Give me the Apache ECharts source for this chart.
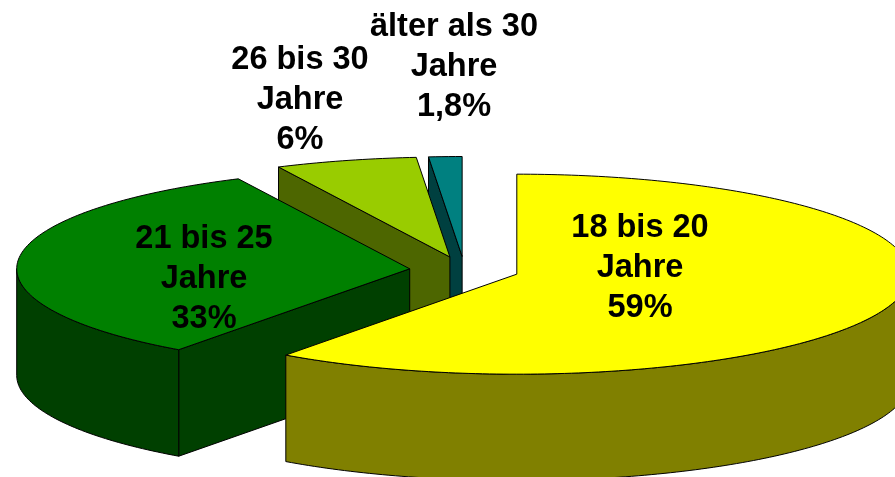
<!DOCTYPE html>
<html>
<head>
<meta charset="utf-8">
<style>html,body{margin:0;padding:0;background:#fff}#c{width:895px;height:477px}</style>
<script src="https://cdn.jsdelivr.net/npm/echarts@6/dist/echarts.min.js"></script>
</head>
<body>
<div id="c"></div>
<script>
// Data
const categories = ['18 bis 20\nJahre', '21 bis 25\nJahre', '26 bis 30\nJahre', 'älter als 30\nJahre'];
const shares = [59, 33, 6.3, 1.8];
const shareLabels = ['59%', '33%', '6%', '1,8%'];
const topColors = ['#FFFF00', '#008000', '#99CC00', '#008080'];
const wallColors = ['#808000', '#004000', '#4D6600', '#004040'];

// Pie projection
const cx = 464.5, cy = 270, rx = 393, ry = 100, depth = 106.5;
const explodeX = 55, explodeY = 13.5;
const perspective = 0.888; // foreshortening of the angle around the pie, back edge fixed
const backSqueeze = 0.38, backSqueezeRange = 6; // extra compression right at the back edge
const labelAnchors = [[640, 268.5], [204, 279], [300, 100], [454, 67]];

const total = shares.reduce((a, b) => a + b, 0);
const rad = d => d * Math.PI / 180;
function project(a) { // true angle -> drawn angle on the ellipse
  if (a <= 0 || a >= 360) return a;
  let h = Math.atan(perspective * Math.tan(rad(a / 2))) * 180 / Math.PI;
  if (h < 0) h += 180;
  const u = 360 - h * 2;
  return 360 - u * (1 - backSqueeze * Math.exp(-u / backSqueezeRange));
}
const bounds = [0];
shares.forEach(v => bounds.push(bounds[bounds.length - 1] + v / total * 360));
const drawn = bounds.map(project);

function sliceShapes(i) {
  const s = drawn[i], e = drawn[i + 1], mid = rad((s + e) / 2);
  const ax = cx + explodeX * Math.sin(mid), ay = cy - explodeY * Math.cos(mid);
  const rim = t => [ax + rx * Math.sin(rad(t)), ay - ry * Math.cos(rad(t))];
  const down = p => [p[0], p[1] + depth];
  const arc = (a, b) => { const o = []; const n = Math.max(2, Math.ceil(Math.abs(b - a))); for (let k = 0; k <= n; k++) o.push(rim(a + (b - a) * k / n)); return o; };
  const shapes = [];
  const st = { stroke: '#000', lineWidth: 1, lineJoin: 'round' };
  const rank = shares.length - 1 - i;
  const poly = (pts, fill, z2) => shapes.push({ type: 'polygon', z2: rank * 10 + z2, silent: true, shape: { points: pts }, style: Object.assign({ fill }, st) });
  // start cut face
  if (s > 0) poly([[ax, ay], rim(s), down(rim(s)), [ax, ay + depth]], wallColors[i], 1);
  // visible outer wall (front half of the ellipse)
  const a0 = Math.max(s, 90), a1 = Math.min(e, 270);
  if (a1 > a0) {
    const top = arc(a0, a1);
    poly(top.concat(top.slice().reverse().map(down)), wallColors[i], 2);
  }
  // top face
  poly([[ax, ay]].concat(arc(s, e)), topColors[i], 3);
  return shapes;
}

const chart = echarts.init(document.getElementById('c'), null, { renderer: 'canvas' });
chart.setOption({
  animation: false,
  backgroundColor: '#ffffff',
  series: [{
    type: 'custom',
    coordinateSystem: 'none',
    clip: false,
    silent: true,
    data: shares.map((v, i) => ({ value: [v, i], name: categories[i] })),
    renderItem(params, api) {
      const i = api.value(1);
      const shapes = sliceShapes(i);
      shapes.push({
        type: 'text', z2: 100, silent: true,
        style: {
          x: labelAnchors[i][0], y: labelAnchors[i][1],
          text: categories[i] + '\n' + shareLabels[i],
          fill: '#000', align: 'center', verticalAlign: 'middle',
          font: 'bold 32.5px "Liberation Sans", Arial, sans-serif', lineHeight: 40
        }
      });
      return { type: 'group', children: shapes };
    }
  }]
});
</script>
</body>
</html>
